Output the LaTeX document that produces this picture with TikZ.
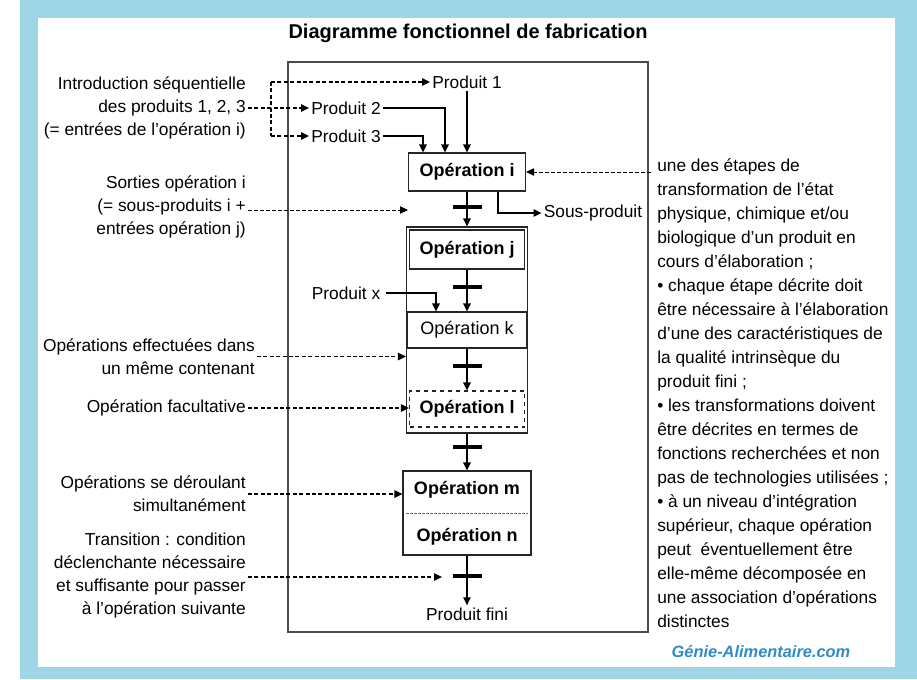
\documentclass[tikz,border=0pt]{standalone}
\usepackage{fontspec}
\setmainfont{Liberation Sans}
\usetikzlibrary{arrows.meta}
\usetikzlibrary{positioning}

\definecolor{bleucadre}{RGB}{158,214,229}
\definecolor{bleusite}{RGB}{48,140,198}

\begin{document}
\begin{tikzpicture}[x=0.75pt,y=-0.75pt,
        every node/.style={font=\fontsize{13}{17.25}\selectfont,inner sep=1.5pt},
        titre/.style={font=\fontsize{15}{18}\selectfont\bfseries},
        note/.style={align=right,anchor=east},
        op/.style={draw=black!85,line width=0.8pt,fill=white,inner sep=0pt,
            font=\fontsize{13.5}{16}\selectfont\bfseries},
        barre/.style={fill=black,minimum width=21.75pt,minimum height=3.3pt,inner sep=0pt},
        fleche/.style={line width=1.2pt,-{Triangle[length=6pt,width=5.5pt]}},
        pointille/.style={line width=1.1pt,dash pattern=on 3pt off 1.8pt,-{Triangle[length=6pt,width=5.5pt]}},
        tiret/.style={line width=0.6pt,dash pattern=on 3pt off 1.5pt,-{Triangle[length=6pt,width=5.5pt]}},
  ]
    \useasboundingbox (0,0) rectangle (917,679);
    \fill[white] (0,0) rectangle (917,679);
    \fill[bleucadre] (20,0) rectangle (917,679);
    \fill[white] (38,18) rectangle (895,667);

    \node[titre] (titre) at (468,33) {Diagramme fonctionnel de fabrication};
    \draw[line width=1pt,black!70] (288,62) rectangle (648,632);

    % operations
    \node[draw=black!85,line width=0.8pt,minimum width=90.75pt,minimum height=154.5pt] (contenant) at (467,330) {};
    \node[op,minimum width=87.75pt,minimum height=28.5pt] (opi) at (467,172) {Opération i};
    \node[op,minimum width=86.25pt,minimum height=29.25pt] (opj) at (467,249.5) {Opération j};
    \node[op,minimum width=90pt,minimum height=27pt,font=\fontsize{13.5}{16}\selectfont] (opk) at (467,330) {Opération k};
    \node[op,dashed,minimum width=86.25pt,minimum height=27pt] (opl) at (467,409) {Opération l};
    \node[op,minimum width=96pt,minimum height=63pt] (opmn) at (467,513) {};
    \node[font=\fontsize{13.5}{16}\selectfont\bfseries] (opm) at (467,490) {Opération m};
    \node[font=\fontsize{13.5}{16}\selectfont\bfseries] (opn) at (467,537) {Opération n};
    \draw[line width=0.6pt,black!60,dash pattern=on 2pt off 1pt] ([xshift=3pt]opmn.west) -- ([xshift=-3pt]opmn.east);

    % produits
    \node (p1) at (467,82) {Produit 1};
    \node (p2) at (346,108) {Produit 2};
    \node (p3) at (346,136) {Produit 3};
    \node (px) at (346,293) {Produit x};
    \node (sous) at (593,213) {Sous-produit};
    \node (fini) at (467,614) {Produit fini};

    % transitions
    \node[barre] (t1) at (467,207) {};
    \node[barre] (t2) at (467,287) {};
    \node[barre] (t3) at (467,366) {};
    \node[barre] (t4) at (467,447) {};
    \node[barre] (t5) at (467,576) {};

    \draw[fleche] (p1) -- (opi);
    \draw[fleche] (p2.east) -| ([xshift=-16.5pt]opi.north);
    \draw[fleche] (p3.east) -| ([xshift=-33pt]opi.north);
    \draw[fleche] ([xshift=23.25pt]opi.south) |- (sous.west);
    \draw[fleche] (opi.south) -- (opi.south |- contenant.north);
    \draw[fleche] (opj) -- (opk);
    \draw[fleche] ([xshift=3pt]px.east) -| ([xshift=-23.25pt]opk.north);
    \draw[fleche] (opk) -- (opl);
    \draw[fleche] (contenant.south) -- (opmn.north);
    \draw[fleche] (opmn) -- (fini);

    % notes a gauche
    \node[note] (intro) at (248,108) {Introduction séquentielle\\des produits 1, 2, 3\\(= entrées de l'opération i)};
    \node[note] (sorties) at (248,207) {Sorties opération i\\(= sous-produits i +\\entrées opération j)};
    \node[note] (contenu) at (257,356.5) {Opérations effectuées dans\\un même contenant};
    \node[note] (facult) at (248,408) {Opération facultative};
    \node[note] (simult) at (248,494) {Opérations se déroulant\\simultanément};
    \node[note] (transit) at (248,575.5) {Transition : condition\\déclenchante nécessaire\\et suffisante pour passer\\à l'opération suivante};

    \coordinate (crochet1) at (271,82);
    \coordinate (crochet3) at (271,136);
    \coordinate (sortiefin) at (408,210);
    \coordinate (transitfin) at (442,577);
    \draw[pointille,-] (crochet1) -- (crochet3);
    \draw[pointille] (crochet1) -- (p1.west);
    \draw[pointille] (intro.east) -- (p2.west);
    \draw[pointille] (crochet3) -- (p3.west);
    \draw[tiret] (sorties.east |- sortiefin) -- (sortiefin);
    \draw[pointille] (contenu.east) -- (contenu.east -| contenant.west);
    \draw[pointille] (facult.east) -- (facult.east -| opl.west);
    \draw[pointille] (simult.east) -- (simult.east -| opmn.west);
    \draw[pointille] (transit.east |- transitfin) -- (transitfin);

    % definition a droite
    \node[anchor=north west,align=left,font=\fontsize{13}{18}\selectfont] (definition) at (655,156)
        {une des étapes de\\transformation de l'état\\physique, chimique et/ou\\biologique d'un produit en\\cours d'élaboration ;\\%
         • chaque étape décrite doit\\être nécessaire à l'élaboration\\d'une des caractéristiques de\\la qualité intrinsèque du\\produit fini ;\\%
         • les transformations doivent\\être décrites en termes de\\fonctions recherchées et non\\pas de technologies utilisées ;\\%
         • à un niveau d'intégration\\supérieur, chaque opération\\peut \ éventuellement être\\elle-même décomposée en\\une association d'opérations\\distinctes};
    \coordinate (defdebut) at (651,172);
    \draw[tiret] (defdebut) -- (opi.east);

    \node[font=\fontsize{12.3}{14}\selectfont\bfseries\itshape,text=bleusite] (site) at (761,652) {Génie-Alimentaire.com};
\end{tikzpicture}
\end{document}
